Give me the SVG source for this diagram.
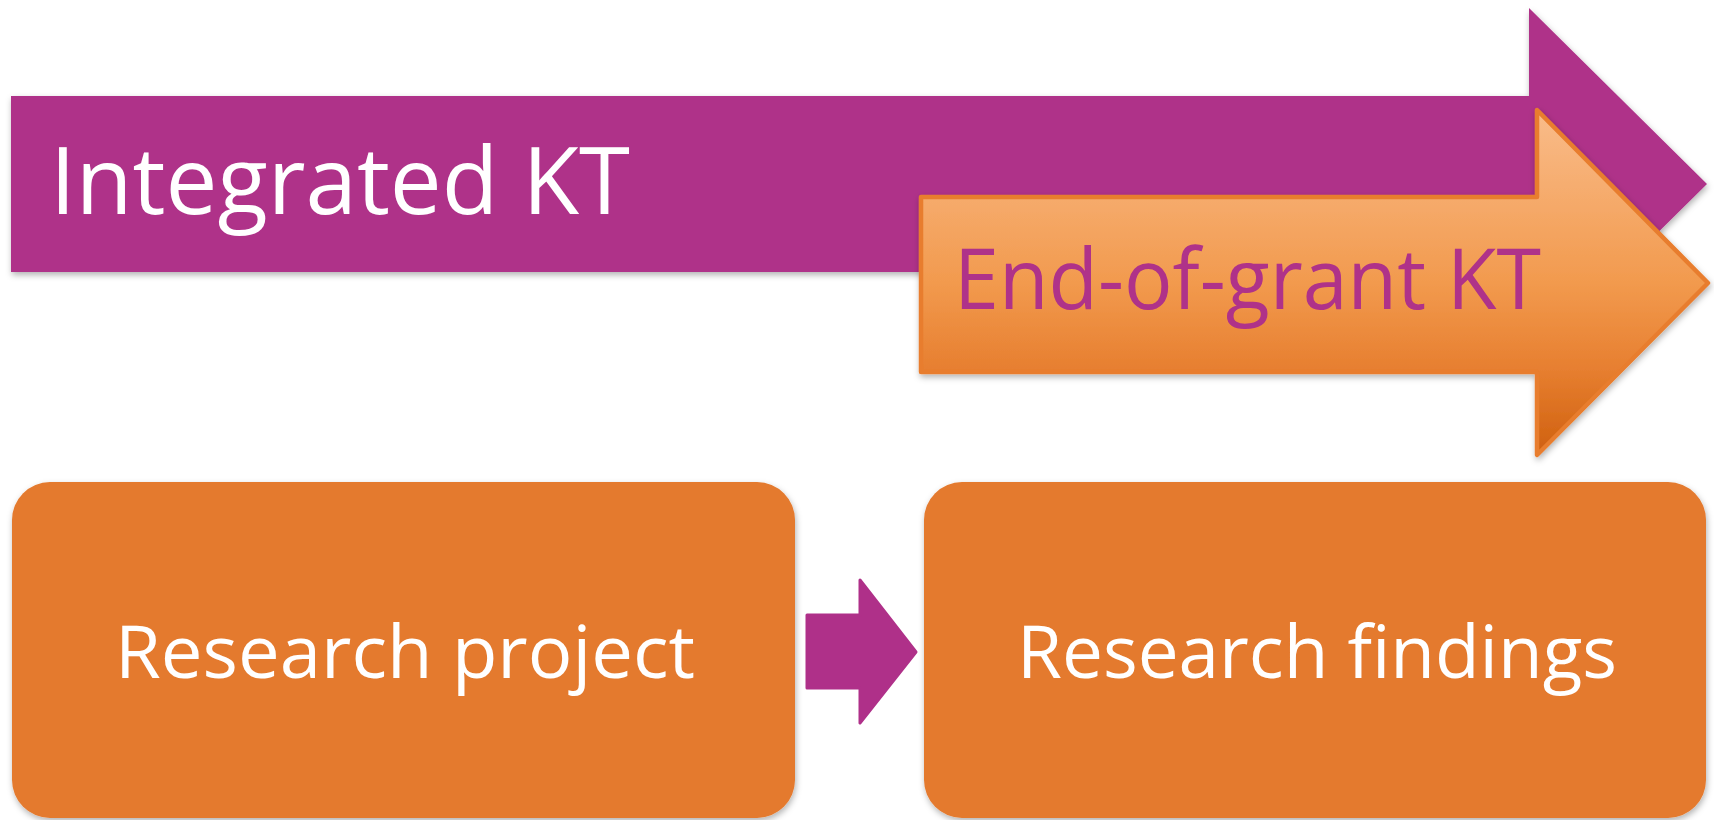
<svg xmlns="http://www.w3.org/2000/svg" width="1714" height="820" viewBox="0 0 1714 820">
<style>
.purple{fill:#AF3089}
.box{fill:#E47A2E}
.lbl{font-family:"Open Sans","Liberation Sans",sans-serif}
</style>
<defs>
<filter id="sh" x="-5%" y="-5%" width="110%" height="115%">
<feDropShadow dx="1" dy="3" stdDeviation="3" flood-color="#000" flood-opacity="0.3"/>
</filter>
<linearGradient id="og" x1="0" y1="0" x2="0" y2="1">
<stop offset="0" stop-color="#F9BC8A"/>
<stop offset="0.5" stop-color="#F29A4E"/>
<stop offset="0.75" stop-color="#E77F30"/>
<stop offset="1" stop-color="#CF600F"/>
</linearGradient>
</defs>
<rect width="1714" height="820" fill="#fff"/>
<g id="integrated-kt" filter="url(#sh)">
<path class="purple" d="M11,96 H1529 V8 L1707,184 L1529,360 V272 H11 Z"/>
<text class="lbl" x="50" y="214" font-size="94" fill="#fff" textLength="580" lengthAdjust="spacingAndGlyphs">Integrated KT</text>
</g>
<g id="end-of-grant-kt" filter="url(#sh)">
<path d="M921,197 H1537 V110 L1708,283 L1537,455 V372 H921 Z" fill="url(#og)" stroke="#E87D2D" stroke-width="4.5" stroke-linejoin="round"/>
<text class="lbl" x="954" y="309" font-size="84" fill="#AF3089" textLength="587" lengthAdjust="spacingAndGlyphs">End-of-grant KT</text>
</g>
<g id="research-project" filter="url(#sh)">
<rect class="box" x="12" y="482" width="783" height="336" rx="38"/>
<text class="lbl" x="115" y="678" font-size="74" fill="#fff" textLength="580" lengthAdjust="spacingAndGlyphs">Research project</text>
</g>
<g id="research-findings" filter="url(#sh)">
<rect class="box" x="924" y="482" width="782" height="336" rx="38"/>
<text class="lbl" x="1017" y="678" font-size="74" fill="#fff" textLength="600" lengthAdjust="spacingAndGlyphs">Research findings</text>
</g>
<g id="connectors">
<path class="purple" d="M807,615 H860 V580 L916,652 L860,723 V688 H807 Z" stroke="#AF3089" stroke-width="3" stroke-linejoin="round"/>
</g>
</svg>
